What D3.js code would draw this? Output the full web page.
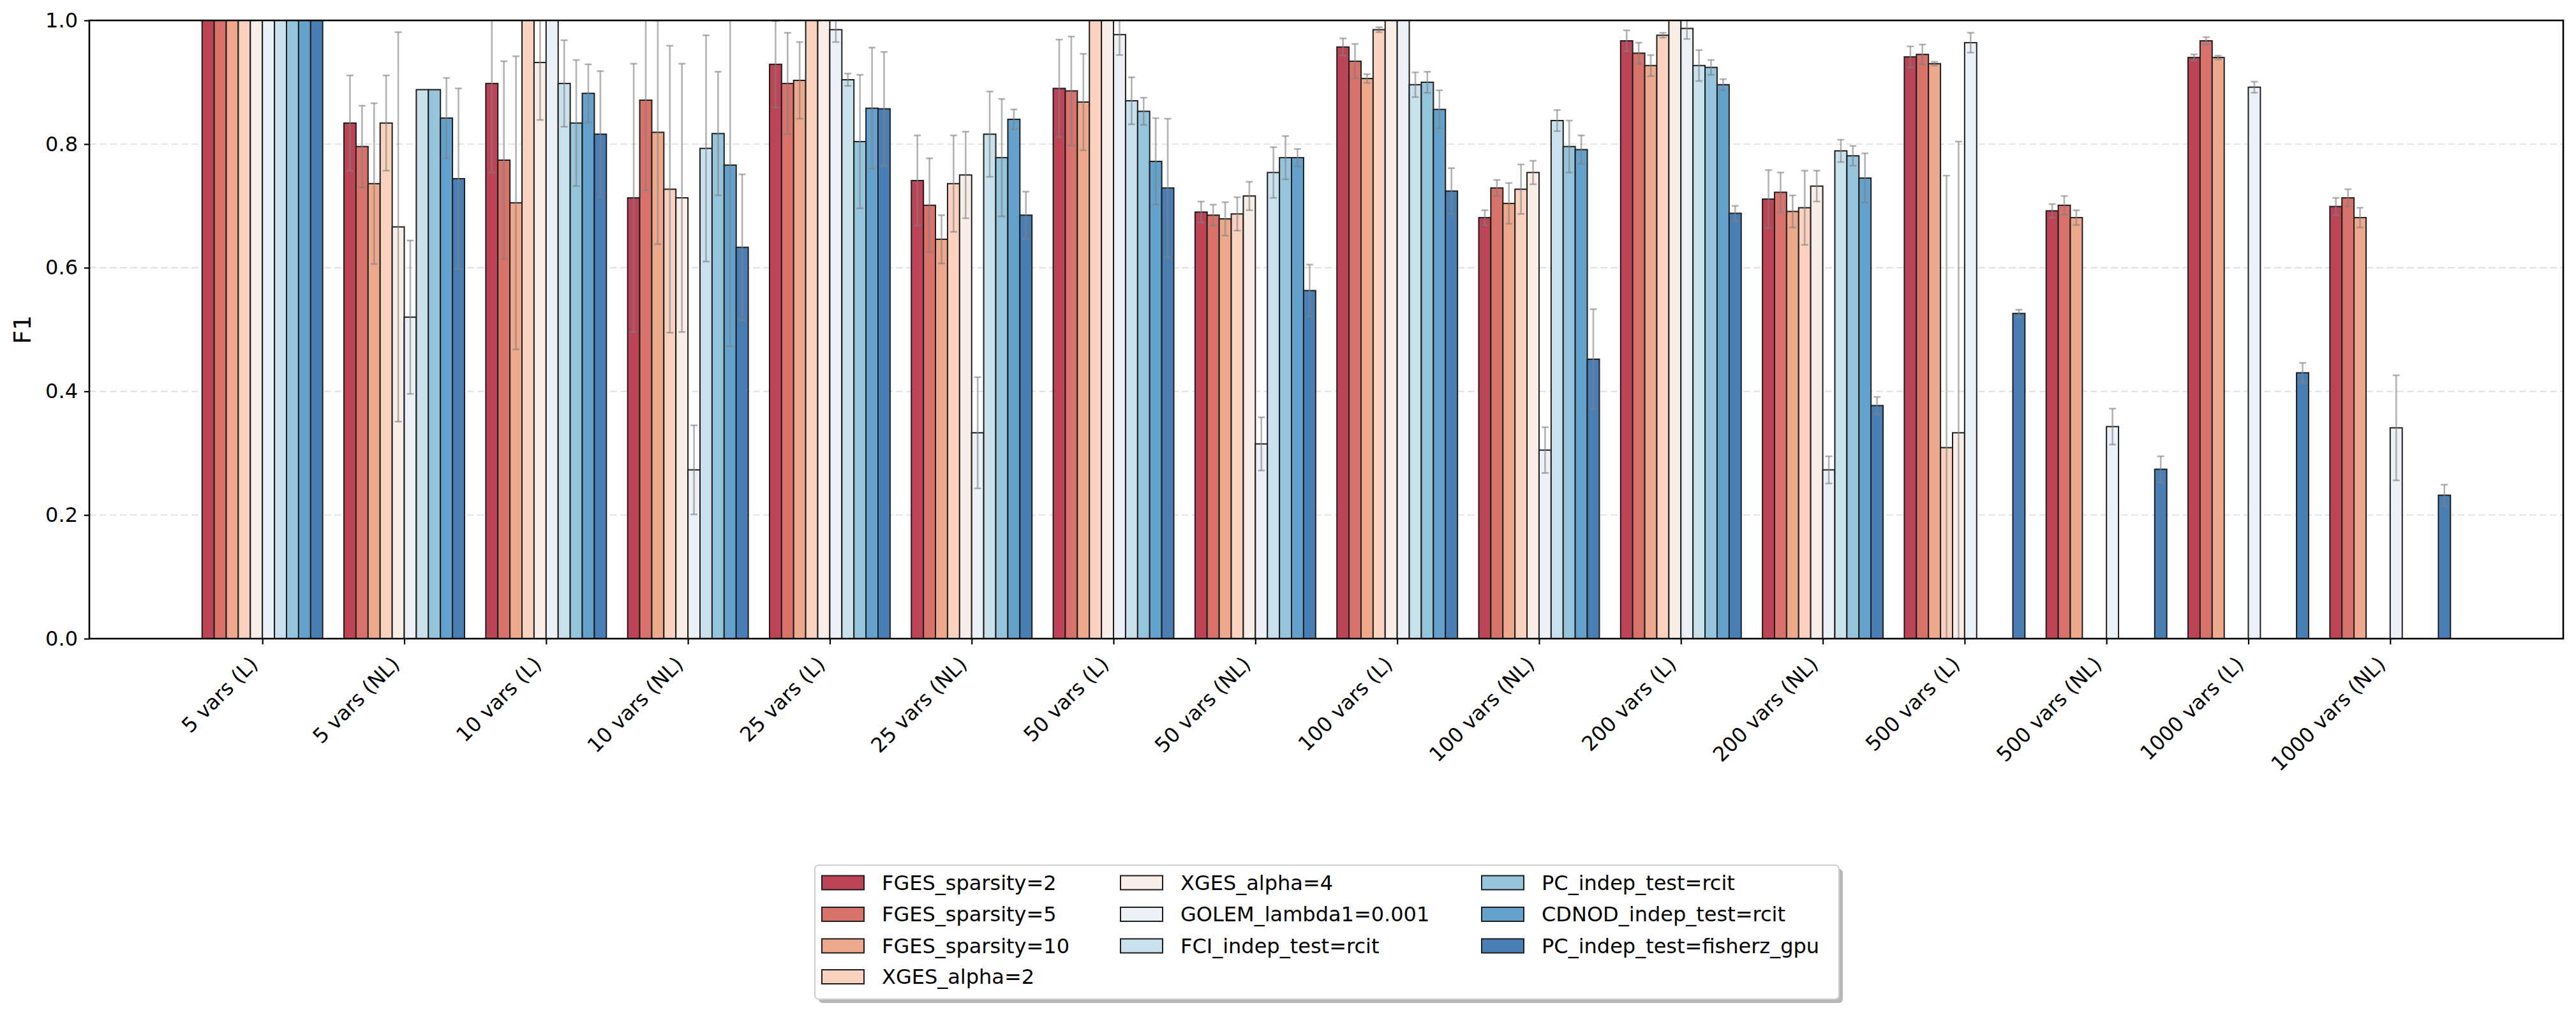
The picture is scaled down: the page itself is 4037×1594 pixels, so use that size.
<!DOCTYPE html>
<html>
<head>
<meta charset="utf-8">
<script src="https://cdn.jsdelivr.net/npm/d3@7"></script>
<style>
  body { margin: 0; background: #fff; }
  text { font-family: "DejaVu Sans", sans-serif; fill: #000; }
</style>
</head>
<body>
<div id="chart-container"></div>
<script>
// group labels on the x axis
const categories = [
  "5 vars (L)", "5 vars (NL)", "10 vars (L)", "10 vars (NL)",
  "25 vars (L)", "25 vars (NL)", "50 vars (L)", "50 vars (NL)",
  "100 vars (L)", "100 vars (NL)", "200 vars (L)", "200 vars (NL)",
  "500 vars (L)", "500 vars (NL)", "1000 vars (L)", "1000 vars (NL)"
];

const seriesNames = [
  "FGES_sparsity=2", "FGES_sparsity=5", "FGES_sparsity=10", "XGES_alpha=2",
  "XGES_alpha=4", "GOLEM_lambda1=0.001", "FCI_indep_test=rcit",
  "PC_indep_test=rcit", "CDNOD_indep_test=rcit", "PC_indep_test=fisherz_gpu"
];

const seriesColors = [
  "#bd4356", "#d8726a", "#eea88c", "#fad2bf", "#f9eee7",
  "#ecf1f7", "#c8e1ec", "#95c4dd", "#64a2cd", "#4a7fb6"
];

// mean F1 per group (null = not run)
const meanFGES2 = [1.0, 0.834, 0.898, 0.713, 0.929, 0.741, 0.890, 0.690, 0.957, 0.681, 0.967, 0.711, 0.941, 0.692, 0.940, 0.699];
const meanFGES5 = [1.0, 0.796, 0.774, 0.871, 0.898, 0.701, 0.886, 0.685, 0.934, 0.729, 0.947, 0.722, 0.945, 0.701, 0.967, 0.713];
const meanFGES10 = [1.0, 0.736, 0.705, 0.819, 0.903, 0.646, 0.868, 0.679, 0.906, 0.704, 0.927, 0.691, 0.930, 0.681, 0.940, 0.681];
const meanXGES2 = [1.0, 0.834, 1.0, 0.727, 1.0, 0.736, 1.0, 0.687, 0.985, 0.727, 0.976, 0.697, 0.309, null, null, null];
const meanXGES4 = [1.0, 0.666, 0.932, 0.713, 1.0, 0.750, 1.0, 0.716, 1.0, 0.754, 1.0, 0.732, 0.333, null, null, null];
const meanGOLEM = [1.0, 0.520, 1.0, 0.273, 0.985, 0.333, 0.977, 0.315, 1.0, 0.305, 0.987, 0.273, 0.964, 0.343, 0.892, 0.341];
const meanFCI = [1.0, 0.888, 0.898, 0.793, 0.904, 0.816, 0.870, 0.754, 0.896, 0.838, 0.927, 0.789, null, null, null, null];
const meanPCrcit = [1.0, 0.888, 0.834, 0.817, 0.804, 0.778, 0.853, 0.778, 0.900, 0.796, 0.924, 0.781, null, null, null, null];
const meanCDNOD = [1.0, 0.842, 0.882, 0.766, 0.858, 0.840, 0.772, 0.778, 0.856, 0.791, 0.896, 0.745, null, null, null, null];
const meanPCfisherz = [1.0, 0.744, 0.816, 0.633, 0.857, 0.685, 0.729, 0.563, 0.724, 0.452, 0.688, 0.377, 0.526, 0.274, 0.430, 0.232];

// standard deviations (error bars)
const sdFGES2 = [0, 0.077, 0.144, 0.217, 0.070, 0.073, 0.079, 0.017, 0.014, 0.012, 0.017, 0.047, 0.017, 0.011, 0.005, 0.014];
const sdFGES5 = [0, 0.066, 0.160, 0.146, 0.082, 0.076, 0.088, 0.017, 0.028, 0.013, 0.017, 0.032, 0.016, 0.015, 0.006, 0.014];
const sdFGES10 = [0, 0.130, 0.237, 0.181, 0.062, 0.039, 0.078, 0.027, 0.007, 0.033, 0.017, 0.026, 0.003, 0.012, 0.003, 0.016];
const sdXGES2 = [0, 0.077, 0, 0.232, 0, 0.078, 0, 0.027, 0.004, 0.040, 0.004, 0.060, 0.440, null, null, null];
const sdXGES4 = [0, 0.315, 0.093, 0.217, 0, 0.070, 0, 0.023, 0, 0.019, 0, 0.025, 0.471, null, null, null];
const sdGOLEM = [0, 0.124, 0, 0.072, 0.020, 0.090, 0.033, 0.043, 0, 0.037, 0.017, 0.022, 0.016, 0.029, 0.009, 0.085];
const sdFCI = [0, 0, 0.070, 0.183, 0.010, 0.069, 0.038, 0.041, 0.020, 0.017, 0.025, 0.018, null, null, null, null];
const sdPCrcit = [0, 0, 0.102, 0.100, 0.108, 0.095, 0.022, 0.035, 0.017, 0.042, 0.012, 0.016, null, null, null, null];
const sdCDNOD = [0, 0.065, 0.047, 0.293, 0.098, 0.016, 0.070, 0.014, 0.031, 0.023, 0.009, 0.040, null, null, null, null];
const sdPCfisherz = [0, 0.146, 0.102, 0.118, 0.092, 0.038, 0.112, 0.042, 0.037, 0.081, 0.012, 0.014, 0.006, 0.021, 0.016, 0.017];

const yTicks = [0.0, 0.2, 0.4, 0.6, 0.8, 1.0];

const means = [meanFGES2, meanFGES5, meanFGES10, meanXGES2, meanXGES4, meanGOLEM, meanFCI, meanPCrcit, meanCDNOD, meanPCfisherz];
const sds = [sdFGES2, sdFGES5, sdFGES10, sdXGES2, sdXGES4, sdGOLEM, sdFCI, sdPCrcit, sdCDNOD, sdPCfisherz];

const W = 4037, H = 1594;
const plot = { left: 140, right: 4017, top: 32, bottom: 1001 };
const barW = 0.085;

const xScale = d3.scaleLinear().domain([-1.22, categories.length - 1 + 1.22]).range([plot.left, plot.right]);
const yScale = d3.scaleLinear().domain([0, 1]).range([plot.bottom, plot.top]);

const svg = d3.select("#chart-container").append("svg")
  .attr("width", W).attr("height", H);

svg.append("defs").append("clipPath").attr("id", "clip")
  .append("rect")
  .attr("x", plot.left).attr("y", plot.top)
  .attr("width", plot.right - plot.left).attr("height", plot.bottom - plot.top);

// grid
svg.append("g").selectAll("line")
  .data(yTicks.filter(d => d > 0 && d < 1))
  .join("line")
  .attr("x1", plot.left).attr("x2", plot.right)
  .attr("y1", d => yScale(d)).attr("y2", d => yScale(d))
  .attr("stroke", "#dcdcdc").attr("stroke-width", 1.6)
  .attr("stroke-dasharray", "11,5");

// bars
const rows = [];
means.forEach((arr, s) => arr.forEach((v, g) => {
  if (v !== null) rows.push({ s, g, v, sd: sds[s][g] });
}));

const barsG = svg.append("g").attr("clip-path", "url(#clip)");
barsG.selectAll("rect")
  .data(rows)
  .join("rect")
  .attr("x", d => xScale(d.g + (d.s - 5) * barW))
  .attr("y", d => yScale(d.v))
  .attr("width", xScale(barW) - xScale(0))
  .attr("height", d => yScale(0) - yScale(d.v))
  .attr("fill", d => seriesColors[d.s])
  .attr("stroke", "#1e1e1e")
  .attr("stroke-width", 2);

// error bars
const errG = svg.append("g").attr("clip-path", "url(#clip)")
  .attr("stroke", "#808080").attr("stroke-opacity", 0.6).attr("stroke-width", 2.6);
const errRows = rows.filter(d => d.sd > 0);
const cx = d => xScale(d.g + (d.s - 4.5) * barW);
errG.selectAll("line.v").data(errRows).join("line").attr("class", "v")
  .attr("x1", cx).attr("x2", cx)
  .attr("y1", d => yScale(d.v + d.sd)).attr("y2", d => yScale(d.v - d.sd));
errG.selectAll("line.top").data(errRows).join("line").attr("class", "top")
  .attr("x1", d => cx(d) - 5.5).attr("x2", d => cx(d) + 5.5)
  .attr("y1", d => yScale(d.v + d.sd)).attr("y2", d => yScale(d.v + d.sd));
errG.selectAll("line.bot").data(errRows).join("line").attr("class", "bot")
  .attr("x1", d => cx(d) - 5.5).attr("x2", d => cx(d) + 5.5)
  .attr("y1", d => yScale(d.v - d.sd)).attr("y2", d => yScale(d.v - d.sd));

// axes
const yAxis = svg.append("g")
  .attr("transform", `translate(${plot.left},0)`)
  .call(d3.axisLeft(yScale).tickValues(yTicks).tickFormat(d3.format(".1f")).tickSize(8).tickPadding(10));
yAxis.select(".domain").remove();
yAxis.selectAll(".tick line").attr("stroke", "#000").attr("stroke-width", 2.2);
yAxis.selectAll(".tick text").style("font-size", "32px").attr("fill", "#000");

const xAxis = svg.append("g")
  .attr("transform", `translate(0,${plot.bottom})`)
  .call(d3.axisBottom(xScale).tickValues(d3.range(categories.length)).tickFormat(i => categories[i]).tickSize(9));
xAxis.select(".domain").remove();
xAxis.selectAll(".tick line").attr("stroke", "#000").attr("stroke-width", 2.2);
xAxis.selectAll(".tick text")
  .style("font-size", "32px")
  .attr("fill", "#000")
  .attr("text-anchor", "end")
  .attr("dy", null)
  .attr("y", 0)
  .attr("transform", "translate(-6,42) rotate(-45)");

// frame
svg.append("rect")
  .attr("x", plot.left).attr("y", plot.top)
  .attr("width", plot.right - plot.left).attr("height", plot.bottom - plot.top)
  .attr("fill", "none").attr("stroke", "#000").attr("stroke-width", 2.6);

svg.append("text")
  .attr("transform", `translate(48,${(plot.top + plot.bottom) / 2}) rotate(-90)`)
  .attr("text-anchor", "middle")
  .style("font-size", "37px")
  .text("F1");

// legend
const legend = { x: 1277, y: 1356, w: 1605, h: 210 };
svg.append("rect")
  .attr("x", legend.x + 6).attr("y", legend.y + 6)
  .attr("width", legend.w).attr("height", legend.h).attr("rx", 6)
  .attr("fill", "#999").attr("fill-opacity", 0.7);
svg.append("rect")
  .attr("x", legend.x).attr("y", legend.y)
  .attr("width", legend.w).attr("height", legend.h).attr("rx", 6)
  .attr("fill", "#fff").attr("stroke", "#cfcfcf").attr("stroke-width", 2);

const colX = [1288, 1756, 2322];
const rowY = [1383.5, 1433, 1482.5, 1531];
const colOf = [0, 0, 0, 0, 1, 1, 1, 2, 2, 2];
const rowOf = [0, 1, 2, 3, 0, 1, 2, 0, 1, 2];

const items = svg.append("g").selectAll("g")
  .data(seriesNames)
  .join("g")
  .attr("transform", (d, i) => `translate(${colX[colOf[i]]},${rowY[rowOf[i]]})`);
items.append("rect")
  .attr("x", 0).attr("y", -11).attr("width", 66).attr("height", 22)
  .attr("fill", (d, i) => seriesColors[i])
  .attr("stroke", "#1e1e1e").attr("stroke-width", 2);
items.append("text")
  .attr("x", 94).attr("y", 11)
  .style("font-size", "32px")
  .text(d => d);
</script>
</body>
</html>
